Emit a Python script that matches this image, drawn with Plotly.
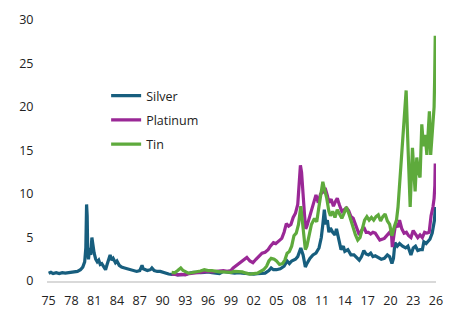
import plotly.graph_objects as go

# ---- data (decimal year, value) ----
silver_x = [1975.0, 1975.3, 1975.6, 1976.0, 1976.4, 1976.8, 1977.2, 1977.6, 1978.0, 1978.4,
            1978.8, 1979.2, 1979.5, 1979.75, 1979.9, 1980.0, 1980.08, 1980.15, 1980.25, 1980.4,
            1980.55, 1980.7, 1980.85, 1981.0, 1981.2, 1981.4, 1981.6, 1981.8, 1982.0, 1982.3,
            1982.5, 1982.7, 1982.9, 1983.1, 1983.3, 1983.5, 1983.8, 1984.0, 1984.3, 1984.6,
            1985.0, 1985.4, 1985.8, 1986.2, 1986.6, 1987.0, 1987.3, 1987.45, 1987.7, 1988.0,
            1988.4, 1988.6, 1988.9, 1989.3, 1989.7, 1990.0, 1990.4, 1990.8, 1991.2, 1991.6,
            1992.0, 1992.5, 1993.0, 1993.5, 1994.0, 1994.5, 1995.0, 1995.5, 1996.0, 1996.5,
            1997.0, 1997.5, 1998.0, 1998.5, 1999.0, 1999.5, 2000.0, 2000.5, 2001.0, 2001.5,
            2002.0, 2002.5, 2003.0, 2003.5, 2004.0, 2004.3, 2004.6, 2005.0, 2005.5, 2006.0,
            2006.4, 2006.7, 2007.0, 2007.5, 2007.8, 2008.2, 2008.5, 2008.8, 2009.0, 2009.4,
            2009.8, 2010.2, 2010.6, 2010.9, 2011.1, 2011.3, 2011.5, 2011.7, 2011.9, 2012.1,
            2012.4, 2012.7, 2012.9, 2013.1, 2013.3, 2013.5, 2013.8, 2014.0, 2014.4, 2014.8,
            2015.2, 2015.6, 2015.9, 2016.2, 2016.5, 2016.8, 2017.1, 2017.4, 2017.7, 2018.0,
            2018.4, 2018.8, 2019.2, 2019.6, 2019.9, 2020.2, 2020.4, 2020.6, 2020.9, 2021.2,
            2021.6, 2022.0, 2022.3, 2022.7, 2023.0, 2023.3, 2023.6, 2023.9, 2024.2, 2024.4,
            2024.7, 2024.9, 2025.2, 2025.5, 2025.7, 2025.8, 2025.9]
silver_y = [0.9, 1.0, 0.85, 0.95, 0.85, 0.95, 0.9, 0.95, 0.95, 1.0,
            1.1, 1.3, 1.6, 2.2, 3.8, 8.8, 7.5, 3.5, 2.5, 3.8,
            3.0, 5.0, 3.8, 3.2, 2.5, 2.2, 2.4, 1.9, 2.0, 1.6,
            1.3, 1.9, 2.6, 3.0, 2.4, 2.6, 2.1, 2.3, 1.8, 1.6,
            1.5, 1.4, 1.3, 1.2, 1.1, 1.2, 1.8, 1.4, 1.3, 1.2,
            1.3, 1.5, 1.2, 1.1, 1.1, 1.0, 0.95, 0.8, 0.75, 0.8,
            0.7, 0.7, 0.75, 0.9, 1.0, 1.0, 0.95, 1.0, 1.05, 0.95,
            0.9, 0.85, 1.1, 1.0, 0.95, 0.9, 0.95, 0.9, 0.85, 0.8,
            0.8, 0.85, 0.85, 0.9, 1.2, 1.5, 1.3, 1.3, 1.4, 1.7,
            2.3, 2.0, 2.3, 2.5, 2.8, 3.8, 3.0, 1.6, 2.0, 2.6,
            3.0, 3.2, 3.8, 5.0, 6.5, 8.2, 6.5, 7.0, 5.6, 6.1,
            5.6, 5.3, 6.0, 5.2, 4.2, 3.6, 4.0, 3.4, 3.6, 3.0,
            3.0, 2.7, 2.4, 2.8, 3.5, 3.1, 3.0, 3.2, 2.8, 2.9,
            2.7, 2.5, 2.6, 3.0, 2.8, 2.0, 2.6, 4.4, 4.0, 4.3,
            4.0, 3.8, 4.0, 3.0, 3.8, 4.0, 3.5, 3.6, 3.6, 4.5,
            4.3, 4.5, 4.8, 5.5, 6.5, 7.0, 8.5]

platinum_x = [1991.2, 1991.6, 1992.0, 1992.5, 1993.0, 1993.5, 1994.0, 1994.5, 1995.0, 1995.5,
              1996.0, 1996.5, 1997.0, 1997.5, 1998.0, 1998.5, 1999.0, 1999.3, 1999.6, 2000.0,
              2000.4, 2000.8, 2001.1, 2001.5, 2001.9, 2002.3, 2002.7, 2003.1, 2003.5, 2003.9,
              2004.2, 2004.6, 2004.9, 2005.3, 2005.7, 2006.0, 2006.3, 2006.6, 2006.9, 2007.2,
              2007.5, 2007.8, 2008.0, 2008.15, 2008.3, 2008.5, 2008.7, 2008.85, 2009.0, 2009.3,
              2009.6, 2009.9, 2010.2, 2010.5, 2010.8, 2011.1, 2011.4, 2011.7, 2011.9, 2012.2,
              2012.5, 2012.8, 2013.0, 2013.3, 2013.6, 2013.9, 2014.2, 2014.5, 2014.8, 2015.1,
              2015.4, 2015.7, 2015.9, 2016.2, 2016.5, 2016.8, 2017.1, 2017.4, 2017.7, 2018.0,
              2018.3, 2018.6, 2018.9, 2019.2, 2019.6, 2019.9, 2020.15, 2020.25, 2020.5, 2020.7,
              2021.0, 2021.2, 2021.5, 2021.8, 2022.1, 2022.4, 2022.7, 2023.0, 2023.3, 2023.6,
              2023.9, 2024.2, 2024.5, 2024.8, 2025.1, 2025.35, 2025.6, 2025.75, 2025.85, 2025.9]
platinum_y = [0.8, 0.75, 0.7, 0.75, 0.7, 0.85, 0.9, 0.95, 1.0, 1.0,
              1.1, 1.05, 1.1, 1.1, 1.2, 1.1, 1.2, 1.5, 1.7, 2.0,
              2.3, 2.6, 2.7, 2.3, 2.1, 2.5, 2.8, 3.2, 3.3, 3.6,
              4.0, 4.4, 4.3, 4.6, 4.9, 5.6, 6.6, 6.3, 6.5, 7.3,
              7.8, 8.8, 11.0, 13.3, 12.5, 9.5, 7.5, 6.0, 6.3, 7.2,
              8.2, 9.2, 9.9, 9.0, 10.0, 10.2, 10.7, 9.8, 9.0, 9.4,
              8.6, 9.2, 9.5, 8.7, 8.0, 8.2, 8.4, 8.1, 7.4, 7.2,
              6.4, 5.6, 5.3, 5.8, 6.2, 5.6, 5.6, 5.4, 5.6, 5.5,
              5.1, 4.7, 4.8, 4.9, 5.3, 5.6, 5.2, 3.9, 5.5, 6.6,
              6.2, 7.0, 6.0, 5.5, 5.6, 5.2, 5.0, 5.8, 5.4, 5.0,
              5.3, 5.0, 5.6, 5.5, 5.6, 7.5, 8.5, 9.5, 11.0, 13.5]

tin_x = [1991.2, 1991.6, 1992.0, 1992.4, 1992.7, 1993.0, 1993.4, 1993.8, 1994.2, 1994.6,
         1995.0, 1995.5, 1996.0, 1996.5, 1997.0, 1997.5, 1998.0, 1998.5, 1999.0, 1999.5,
         2000.0, 2000.5, 2001.0, 2001.5, 2002.0, 2002.5, 2002.9, 2003.3, 2003.7, 2004.0,
         2004.3, 2004.7, 2005.0, 2005.4, 2005.8, 2006.1, 2006.4, 2006.7, 2007.0, 2007.3,
         2007.6, 2007.9, 2008.2, 2008.4, 2008.6, 2008.8, 2009.0, 2009.3, 2009.6, 2010.0,
         2010.3, 2010.6, 2010.9, 2011.1, 2011.3, 2011.6, 2011.9, 2012.1, 2012.4, 2012.7,
         2013.0, 2013.3, 2013.6, 2013.9, 2014.2, 2014.5, 2014.8, 2015.1, 2015.4, 2015.7,
         2016.0, 2016.3, 2016.6, 2016.9, 2017.2, 2017.5, 2017.8, 2018.1, 2018.4, 2018.7,
         2019.0, 2019.3, 2019.6, 2019.9, 2020.2, 2020.5, 2020.8, 2021.0, 2021.3, 2021.6,
         2021.8, 2022.07, 2022.25, 2022.45, 2022.6, 2022.9, 2023.05, 2023.25, 2023.47, 2023.7,
         2023.9, 2024.13, 2024.35, 2024.57, 2024.8, 2025.13, 2025.3, 2025.58, 2025.75, 2025.82,
         2025.9]
tin_y = [1.0, 0.95, 1.2, 1.5, 1.2, 1.1, 0.9, 0.95, 1.0, 1.1,
         1.15, 1.3, 1.2, 1.2, 1.1, 1.05, 1.05, 1.0, 1.0, 1.1,
         1.1, 1.05, 0.9, 0.8, 0.85, 0.9, 1.1, 1.3, 1.7, 2.3,
         2.6, 2.5, 2.3, 1.9, 2.0, 2.4, 3.2, 3.4, 4.0, 5.2,
         5.5, 6.5, 8.6, 7.0, 5.5, 3.6, 4.0, 5.4, 6.5, 7.2,
         6.8, 8.6, 10.2, 11.4, 10.6, 9.6, 8.0, 7.5, 8.0, 7.3,
         8.2, 7.6, 7.2, 7.8, 8.5, 7.8, 6.9, 6.2, 5.3, 4.7,
         5.0, 6.0, 7.0, 7.4, 7.0, 7.3, 7.0, 7.4, 7.6, 6.9,
         7.4, 7.7, 6.9, 6.5, 5.2, 6.2, 7.0, 8.5, 12.5, 16.0,
         18.5, 21.9, 17.0, 12.0, 8.5, 15.3, 13.0, 10.3, 14.2, 12.5,
         11.9, 18.0, 15.5, 16.8, 14.5, 19.5, 14.5, 18.4, 20.0, 23.0,
         28.2]

tick_years = list(range(1975, 2027, 3))
tick_labels = [f"{y % 100:02d}" for y in tick_years]
y_ticks = [0, 5, 10, 15, 20, 25, 30]

FONT = "Open Sans"
TXT = "#222222"

fig = go.Figure()
series = [
    ("Silver", silver_x, silver_y, "#175E7E"),
    ("Platinum", platinum_x, platinum_y, "#9A2896"),
    ("Tin", tin_x, tin_y, "#5EAA3C"),
]
for name, xs, ys, col in series:
    fig.add_trace(go.Scatter(x=xs, y=ys, mode="lines", name=name, legendgroup=name,
                             line=dict(color=col, width=3.2)))

fig.update_layout(
    width=473, height=326,
    margin=dict(l=47, r=37, t=20, b=45),
    paper_bgcolor="white", plot_bgcolor="white",
    font=dict(family=FONT, size=12.5, color=TXT),
    showlegend=True,
    legend=dict(x=0.152, y=0.766, xanchor="left", yanchor="top",
                bgcolor="rgba(0,0,0,0)", tracegroupgap=5,
                font=dict(family=FONT, size=12.5, color=TXT)),
    xaxis=dict(range=[1974.79, 2026.0], tickmode="array", tickvals=tick_years,
               ticktext=tick_labels, showgrid=False, zeroline=False,
               showline=True, linecolor="#D9D9D9", linewidth=2,
               ticks="outside", ticklen=7, tickcolor="rgba(0,0,0,0)"),
    yaxis=dict(range=[0, 30], tickmode="array", tickvals=y_ticks,
               showgrid=False, zeroline=False, showline=False,
               ticks="outside", ticklen=10, tickcolor="rgba(0,0,0,0)"),
)

fig.write_html("out.html")
